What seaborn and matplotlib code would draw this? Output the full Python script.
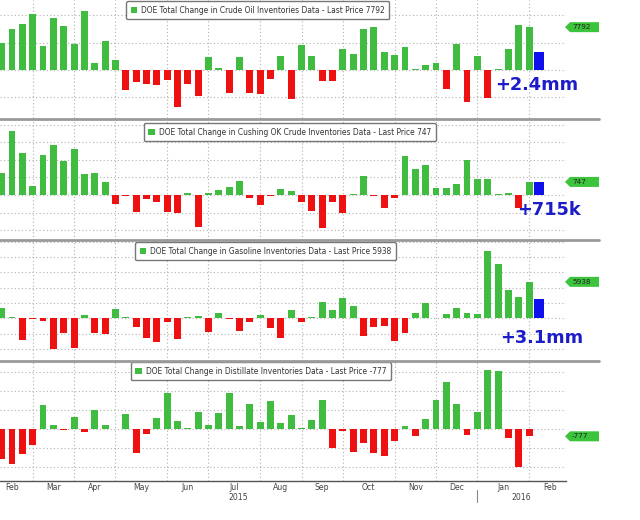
import numpy as np
import pandas as pd
import matplotlib.pyplot as plt
import matplotlib.transforms as mtransforms
from matplotlib.lines import Line2D
from matplotlib.patches import Patch, Polygon
import seaborn as sns

# weekly DOE data (thousand barrels), Feb 2015 - Feb 2016
weeks = pd.date_range('2015-02-13', periods=53, freq='W-FRI')

crude = [4900, 7500, 8300, 10100, 4400, 9500, 8000, 4700, 10800, 1200, 5200, 1800,
         -3700, -2100, -2600, -2800, -1800, -6700, -2500, -4800, 2300, 300, -4200, 2300,
         -4100, -4400, -1700, 2500, -5300, 4600, 2500, -2000, -2000, 3900, 3000, 7400,
         7900, 3300, 2800, 4200, 200, 900, 1200, -3500, 4800, -5800, 2600, -5100, 200,
         3800, 8200, 7792]
cushing = [1230, 3650, 2400, 530, 2300, 2870, 1950, 2600, 1190, 1270, 760, -530,
           -60, -980, -230, -380, -980, -1040, 90, -1850, 130, 280, 430, 810, -190,
           -570, -60, 340, 250, -380, -890, -1890, -420, -1040, 60, 1100, -60, -760,
           -190, 2230, 1470, 1740, 420, 420, 600, 2020, 910, 910, 80, 110, -760, 747]
gasoline = [1740, 270, -3540, -80, -380, -5000, -2340, -4800, 550, -2450, -2560, 1530,
            220, -1360, -3160, -3820, -600, -3380, 220, 380, -2180, 930, -60, -2020,
            -650, 550, -1530, -3160, 1360, -540, 220, 2730, 1310, 3380, 2020, -2890,
            -1420, -1250, -3710, -2340, 870, 2560, 50, 650, 1740, 930, 760, 11000, 8830,
            4580, 3540, 5938]
distillate = [-3210, -3740, -2680, -1690, 2540, 420, -60, 1300, -280, 2010, 420, -40,
              1550, -2500, -530, 1130, 3780, 850, 140, 1840, 420, 1660, 3850, 280, 2610,
              710, 2970, 600, 1480, 140, 920, 3070, -2050, -210, -2400, -1520, -2580,
              -2860, -1270, 320, -740, 1060, 3070, 4940, 2610, -640, 1770, 6250, 6140,
              -920, -3990, -777]

api_values = [3300, 715, 3200, None]
api_labels = ['+2.4mm', '+715k', '+3.1mm', None]
last_price = ['7792', '747', '5938', '-777']
titles = ['DOE Total Change in Crude Oil Inventories Data - Last Price 7792',
          'DOE Total Change in Cushing OK Crude Inventories Data - Last Price 747',
          'DOE Total Change in Gasoline Inventories Data - Last Price 5938',
          'DOE Total Change in Distillate Inventories Data - Last Price -777']
series = [crude, cushing, gasoline, distillate]

GREEN = '#40bd40'
RED = '#ee1111'
BLUE = '#1010ee'
TEXTBLUE = '#1c1cc8'

sns.set_style('white')
plt.rcParams['font.family'] = ['DejaVu Sans']

W, H = 640, 520
fig = plt.figure(figsize=(W / 100, H / 100), dpi=100)

# panel layout in pixels (top, bottom), axes spans x 0..566
panels_px = [(0, 118), (119, 240), (240, 361), (361, 481)]
ax_right = 566
ylims = [(-8730, 12730), (-2570, 4340), (-6960, 12760), (-5510, 7200)]
steps = [5000, 1000, 2500, 2000]
legend_xy = [(0.2226, 0.99), (0.254, 0.967), (0.2385, 0.983), (0.231, 0.99)]
ann_xy = [(0.8746, 0.28), (0.913, 0.248), (0.883, 0.19), None]

# month boundaries: index of first weekly bar in each month
month_starts = pd.date_range('2015-02-01', '2016-03-01', freq='MS')
first_bar = []
for m in month_starts:
    ff = m + pd.Timedelta(days=(4 - m.weekday()) % 7)
    first_bar.append((ff - weeks[0]).days // 7)
bounds = first_bar[1:-1]          # Mar 2015 .. Feb 2016
label_pos = [(a + b) / 2 for a, b in zip(first_bar[:-1], first_bar[1:])]
label_txt = [m.strftime('%b') for m in month_starts[:-1]]

xlim = (-0.16, 54.57)
axes = []
for i, (top, bot) in enumerate(panels_px):
    ax = fig.add_axes([0, 1 - bot / H, ax_right / W, (bot - top) / H])
    axes.append(ax)
    vals = np.array(series[i], dtype=float)
    df = pd.DataFrame({'week': np.arange(len(vals)), 'chg': vals,
                       'dir': np.where(vals >= 0, 'up', 'down')})
    sns.barplot(data=df, x='week', y='chg', hue='dir',
                palette={'up': GREEN, 'down': RED}, native_scale=True, width=0.67,
                dodge=False, legend=False, errorbar=None, saturation=1,
                linewidth=0, ax=ax)
    if api_values[i] is not None:
        sns.barplot(x=[len(vals)], y=[api_values[i]], color=BLUE, native_scale=True,
                    width=0.97, errorbar=None, saturation=1, linewidth=0, ax=ax)
    ax.set_xlim(*xlim)
    ax.set_ylim(*ylims[i])
    lo, hi = ylims[i]
    st = steps[i]
    ax.set_yticks(np.arange(np.ceil(lo / st) * st, hi, st))
    ax.set_xticks(bounds)
    ax.grid(True, linestyle=(0, (1, 2.2)), color='#b0b0b0', linewidth=0.8)
    ax.set_axisbelow(True)
    ax.set_xlabel('')
    ax.set_ylabel('')
    ax.tick_params(axis='y', length=0, labelleft=False)
    for s in ax.spines.values():
        s.set_visible(False)
    if i < 3:
        ax.tick_params(axis='x', length=0, labelbottom=False)
    else:
        ax.spines['bottom'].set_visible(True)
        ax.spines['bottom'].set_color('#555555')
        ax.spines['bottom'].set_linewidth(1)
        ax.tick_params(axis='x', which='major', direction='inout', length=6,
                       width=0.8, color='#666666', labelbottom=False)
        ax.set_xticks(label_pos, minor=True)
        ax.set_xticklabels(label_txt, minor=True)
        ax.tick_params(axis='x', which='minor', length=0, pad=1.5,
                       labelsize=5.6, labelcolor='#444444')

    # legend box
    ax.legend(handles=[Patch(facecolor=GREEN, edgecolor='none')], labels=[titles[i]],
              loc='upper left', bbox_to_anchor=legend_xy[i], fontsize=5.45,
              frameon=True, fancybox=True, edgecolor='#777777', framealpha=1,
              handlelength=0.9, handleheight=0.9, handletextpad=0.5,
              borderpad=0.6, borderaxespad=0, labelcolor='#333333')

    # last-price tag on the right
    hpx = bot - top
    dy = 10 * (hi - lo) / hpx
    y0 = float(last_price[i])
    tr = mtransforms.blended_transform_factory(ax.transAxes, ax.transData)
    x_tip, x_b, x_e = 565 / ax_right, 570 / ax_right, 599 / ax_right
    tag = Polygon([(x_tip, y0), (x_b, y0 + dy / 2), (x_e, y0 + dy / 2),
                   (x_e, y0 - dy / 2), (x_b, y0 - dy / 2)], closed=True,
                  facecolor='#3cc43c', edgecolor='none', transform=tr, clip_on=False)
    ax.add_patch(tag)
    ax.text(572 / ax_right, y0, last_price[i], transform=tr, fontsize=5.2,
            color='#222222', va='center', ha='left')

    if api_labels[i] is not None:
        ax.text(ann_xy[i][0], ann_xy[i][1], api_labels[i], transform=ax.transAxes,
                fontsize=12.8, fontweight='bold', color=TEXTBLUE, va='center',
                ha='left')

# panel separators
for y in [119, 240, 361]:
    fig.add_artist(Line2D([0, 599 / W], [1 - y / H, 1 - y / H], color='#9a9a9a',
                          linewidth=2, transform=fig.transFigure))

# years below the month labels
axb = axes[-1]
trb = mtransforms.blended_transform_factory(axb.transData, fig.transFigure)
jan16 = first_bar[-3]
axb.plot([jan16, jan16], [1 - 490 / H, 1 - 502 / H], color='#888888', lw=0.8,
         transform=trb, clip_on=False)
axb.text((xlim[0] + jan16) / 2, 1 - 497 / H, '2015', transform=trb, fontsize=5.6,
         color='#444444', ha='center', va='center')
axb.text((jan16 + xlim[1]) / 2, 1 - 497 / H, '2016', transform=trb, fontsize=5.6,
         color='#444444', ha='center', va='center')

fig.savefig('out.png', dpi=100)
